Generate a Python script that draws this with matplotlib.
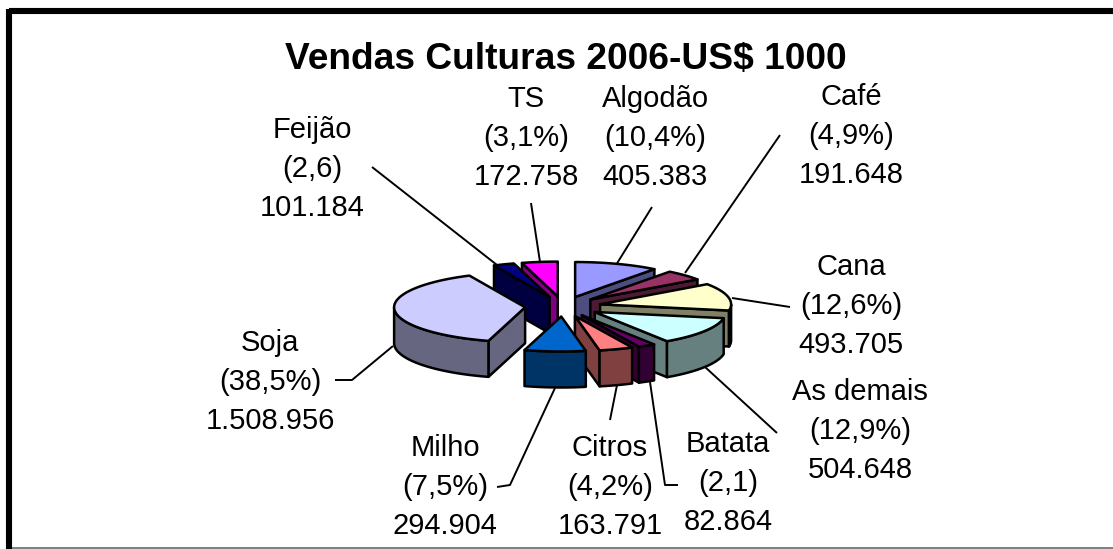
import numpy as np
import matplotlib
matplotlib.use("Agg")
import matplotlib.pyplot as plt
from matplotlib.patches import Polygon

plt.rcParams['font.family'] = ['Liberation Sans', 'DejaVu Sans']

title = "Vendas Culturas 2006-US$ 1000"
names = ["Algodão", "Café", "Cana", "As demais", "Batata", "Citros", "Milho", "Soja", "Feijão", "TS"]
pct_text = ["(10,4%)", "(4,9%)", "(12,6%)", "(12,9%)", "(2,1)", "(4,2%)", "(7,5%)", "(38,5%)", "(2,6)", "(3,1%)"]
sales = [405383, 191648, 493705, 504648, 82864, 163791, 294904, 1508956, 101184, 172758]
top_colors = ["#9999FF", "#993366", "#FFFFCC", "#CCFFFF", "#660066", "#FF8080", "#0066CC", "#CCCCFF", "#000080", "#FF00FF"]
side_colors = ["#4D4D80", "#4D1A33", "#808066", "#668080", "#330033", "#804040", "#003366", "#666680", "#000040", "#800080"]

# layout of the drawing (pixels)
CX, CY, RX, RY, EX, EY, DEPTH = 563, 306.5, 131, 35, 38, 10, 36
label_pos = [(655, 138), (851, 136), (851, 306), (860, 431), (728, 483),
             (610, 487), (445, 487), (270, 382), (312, 169), (526, 138)]
leaders = [[(652, 207), (616, 265)],
           [(780, 135), (685, 273)],
           [(790, 307), (732, 298)],
           [(777, 433), (705, 367)],
           [(678, 485), (665, 485), (650, 382)],
           [(610, 420), (617, 385)],
           [(497, 487), (510, 485), (555, 388)],
           [(335, 380), (352, 380), (393, 346)],
           [(372, 167), (497, 265)],
           [(531, 203), (540, 262)]]
paint_order = [9, 0, 1, 8, 2, 7, 3, 4, 5, 6]

fig = plt.figure(figsize=(11.13, 5.49), dpi=100)
ax = fig.add_axes([0, 0, 1, 1])
ax.set_xlim(0, 1113)
ax.set_ylim(549, 0)
ax.axis("off")

# frame: thick top and left edges, thin grey bottom edge, nothing on the right
ax.plot([9, 1113], [11, 11], color="black", lw=4.4, solid_capstyle="butt")
ax.plot([9, 9], [8.5, 549], color="black", lw=4.4, solid_capstyle="butt")
ax.plot([12, 1113], [548, 548], color="#808080", lw=1.4, solid_capstyle="butt")

total = sum(sales)
bounds = np.concatenate([[0], np.cumsum(sales)]) / total * 2 * np.pi
edge = dict(ec="black", lw=1.8, joinstyle="round")

for pts in leaders:
    xs, ys = zip(*pts)
    ax.plot(xs, ys, color="black", lw=1.4, solid_capstyle="butt", zorder=0.5)

for i in paint_order:
    a0, a1 = bounds[i], bounds[i + 1]
    mid = (a0 + a1) / 2
    x0 = CX + EX * np.sin(mid)
    y0 = CY - EY * np.cos(mid)
    th = np.linspace(a0, a1, 80)
    px = x0 + RX * np.sin(th)
    py = y0 - RY * np.cos(th)
    for a, visible in ((a0, np.sin(a0) < 0), (a1, np.sin(a1) > 0)):
        if visible:
            q = [(x0, y0), (x0 + RX * np.sin(a), y0 - RY * np.cos(a)),
                 (x0 + RX * np.sin(a), y0 - RY * np.cos(a) + DEPTH), (x0, y0 + DEPTH)]
            ax.add_patch(Polygon(q, fc=side_colors[i], **edge))
    front = np.cos(th) <= 0
    if front.any():
        fx, fy = px[front], py[front]
        rim = list(zip(fx, fy)) + list(zip(fx[::-1], fy[::-1] + DEPTH))
        ax.add_patch(Polygon(rim, fc=side_colors[i], **edge))
    ax.add_patch(Polygon([(x0, y0)] + list(zip(px, py)), fc=top_colors[i], **edge))

for n, p, s, (x, y) in zip(names, pct_text, sales, label_pos):
    txt = f"{s:,}".replace(",", ".")
    ax.text(x, y, f"{n}\n{p}\n{txt}", ha="center", va="center", fontsize=21,
            linespacing=1.5, color="black")

ax.text(566, 60, title, ha="center", va="center", fontsize=26.7, fontweight="bold", color="black")

fig.savefig("out.png", dpi=100)
